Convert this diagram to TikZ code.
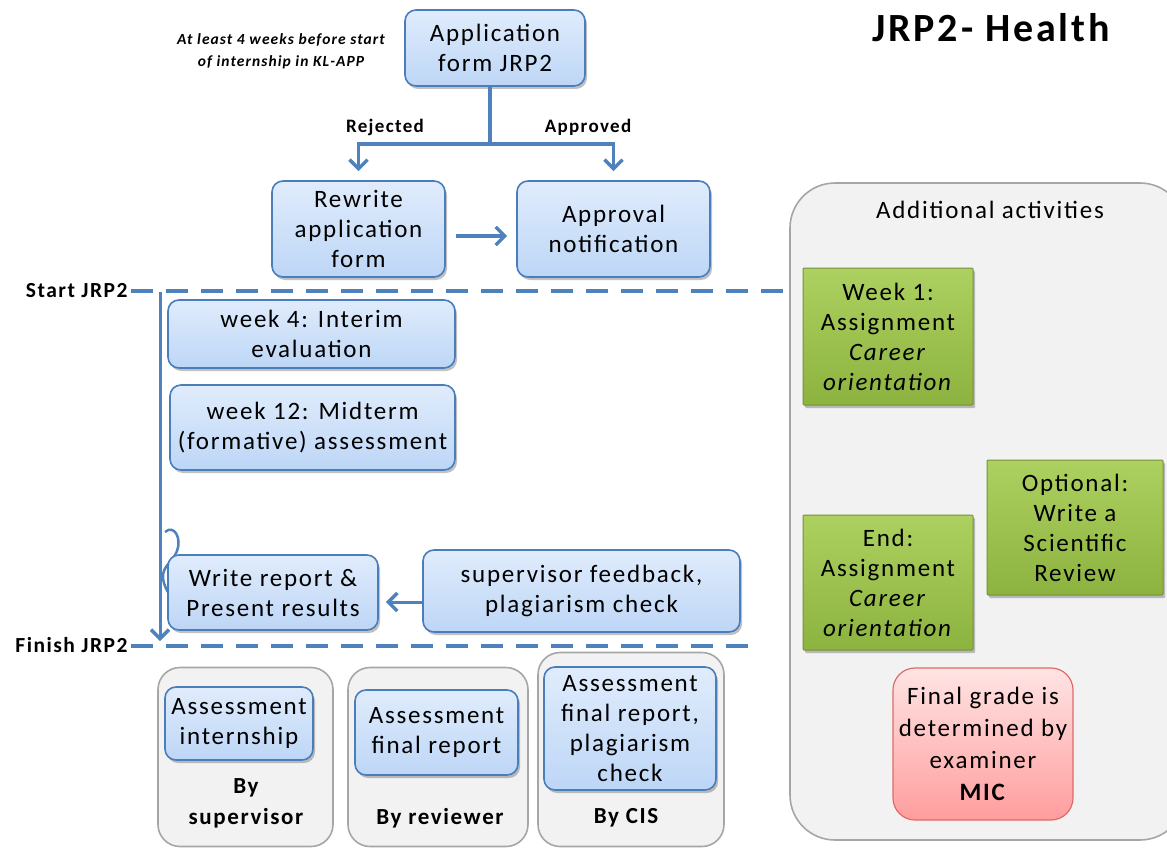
\documentclass[tikz,border=0pt]{standalone}
\usepackage{fontspec}
\setmainfont{Carlito}[LetterSpace=7]
\usetikzlibrary{arrows.meta,positioning,shadows,calc}
\definecolor{linkblue}{HTML}{4F81BD}
\definecolor{boxblue}{HTML}{4A7EBB}
\definecolor{bluetop}{HTML}{E0ECFC}
\definecolor{bluebot}{HTML}{BDD6F6}
\definecolor{grayfill}{HTML}{F2F2F2}
\definecolor{graydraw}{HTML}{A6A6A6}
\definecolor{greentop}{HTML}{ADD160}
\definecolor{greenbot}{HTML}{8CB23F}
\definecolor{greendraw}{HTML}{76923C}
\definecolor{redtop}{HTML}{FFE4E4}
\definecolor{redbot}{HTML}{FF9D9D}
\definecolor{reddraw}{HTML}{E06A6A}

\tikzset{
  bluebox/.style={draw=boxblue,line width=1.6pt,rounded corners=11pt,top color=bluetop,bottom color=bluebot,
    align=center,inner sep=2pt,drop shadow={shadow xshift=2pt,shadow yshift=-3pt,opacity=.35,fill=black!70}},
  greenbox/.style={draw=greendraw,line width=1pt,rounded corners=1pt,top color=greentop,bottom color=greenbot,
    align=center,inner sep=2pt,drop shadow={shadow xshift=2pt,shadow yshift=-3pt,opacity=.35,fill=black!70}},
  redbox/.style={draw=reddraw,line width=1.2pt,rounded corners=22pt,top color=redtop,bottom color=redbot,
    align=center,inner sep=2pt},
  graygroup/.style={draw=graydraw,line width=1.6pt,fill=grayfill,rounded corners=22pt,inner sep=0pt},
  flow/.style={draw=linkblue,line width=3.5pt,-{Straight Barb[length=9pt,width=18pt,line width=3.5pt]}},
  phase/.style={draw=linkblue,line width=4pt,dash pattern=on 22pt off 13pt},
  boldlbl/.style={font=\fontsize{19}{23}\selectfont\bfseries},
  grplbl/.style={font=\fontsize{23}{31}\selectfont\bfseries,align=center}
}

\begin{document}
\begin{tikzpicture}[x=1pt,y=-1pt,font=\fontsize{25}{30}\selectfont]
  \useasboundingbox (0,0) rectangle (1167,848);

  % title and note
  \node[anchor=east,font=\fontsize{40}{48}\selectfont\bfseries] (title) at (1113,28) {JRP2- Health};
  \node[align=center,font=\fontsize{15.5}{22}\selectfont\bfseries\itshape] (note) at (281,51)
    {At least 4 weeks before start\\of internship in KL-APP};

  % application
  \node[bluebox,minimum width=180,minimum height=76] (app) at (495,48) {Application\\form JRP2};
  \node[bluebox,minimum width=173,minimum height=96] (rew) at (358.5,229) {Rewrite\\application\\form};
  \node[bluebox,minimum width=193,minimum height=96] (appr) at (613.5,229) {Approval\\notification};
  \coordinate (split) at ($(app.south)+(-5,57)$);
  \draw[flow,shorten >=9pt] ($(app.south)+(-5,0)$) -- (split) -| (rew.north);
  \draw[flow,shorten >=9pt] (split) -| (appr.north);
  \node[boldlbl] (rejlbl) at (385,127) {Rejected};
  \node[boldlbl] (applbl) at (588,127) {Approved};
  \draw[flow,shorten <=10pt,shorten >=9pt] ([yshift=-7pt]rew.east) -- ([yshift=-7pt]appr.west);

  % internship period
  \node[boldlbl,font=\fontsize{21.5}{25}\selectfont\bfseries,anchor=east] (startlbl) at (131,291) {Start JRP2};
  \node[boldlbl,font=\fontsize{21.5}{25}\selectfont\bfseries,anchor=east] (finlbl) at (131,645) {Finish JRP2};
  \coordinate (startend) at (790,291);
  \coordinate (finend) at (756,646);
  \draw[phase] (startlbl.east) -- (startend);
  \draw[phase] ([yshift=-1pt]finlbl.east) -- (finend);
  \coordinate (tstart) at (160,292);
  \coordinate (tend) at (160,641);
  \draw[flow,line width=3pt] (tstart) -- (tend);
  \draw[linkblue,line width=2.5pt] (165,532) .. controls (174,524) and (182,538) .. (177,551)
    .. controls (173,562) and (162,566) .. (163,578) .. controls (164,586) and (167,590) .. (169,594);

  \node[bluebox,minimum width=287,minimum height=68] (interim) at (311.5,334) {week 4: Interim\\evaluation};
  \node[bluebox,minimum width=285,minimum height=85] (mid) at (312.5,427.5) {week 12: Midterm\\(formative) assessment};
  \node[bluebox,minimum width=210,minimum height=75] (write) at (273,592.5) {Write report \&\\Present results};
  \node[bluebox,minimum width=317,minimum height=82] (feed) at (581.5,591) {supervisor feedback,\\plagiarism check};
  \draw[flow,line width=3pt,shorten >=7pt] ([yshift=-11pt]feed.west) -- ([yshift=-11pt]feed.west -| write.east);

  % assessment groups
  \node[graygroup,minimum width=175,minimum height=179] (grpsup) at (245.5,757) {};
  \node[graygroup,minimum width=180,minimum height=179] (grprev) at (438,757) {};
  \node[graygroup,minimum width=186,minimum height=194] (grpcis) at (631,749.5) {};
  \node[bluebox,minimum width=148,minimum height=73] (asssup) at (239,723.5) {Assessment\\internship};
  \node[bluebox,minimum width=163,minimum height=85] (assrev) at (436.5,732.5) {Assessment\\final report};
  \node[bluebox,minimum width=172,minimum height=123] (asscis) at (630,728.5) {Assessment\\final report,\\plagiarism\\check};
  \node[grplbl] (bysup) at (246,803) {By\\supervisor};
  \node[grplbl] (byrev) at (440,818) {By reviewer};
  \node[grplbl] (bycis) at (626,818) {By CIS};

  % additional activities
  \node[graygroup,rounded corners=45pt,minimum width=395,minimum height=657] (addgrp) at (987.5,511.5) {};
  \node (addlbl) at (990,210) {Additional activities};
  \node[greenbox,minimum width=170,minimum height=137] (week1) at (888,336.5)
    {Week 1:\\Assignment\\\textit{Career}\\\textit{orientation}};
  \node[greenbox,minimum width=176,minimum height=135] (opt) at (1075,527.5)
    {Optional:\\Write a\\Scientific\\Review};
  \node[greenbox,minimum width=170,minimum height=135] (endb) at (888,582.5)
    {End:\\Assignment\\\textit{Career}\\\textit{orientation}};
  \node[redbox,minimum width=180,minimum height=152,font=\fontsize{25}{32}\selectfont] (final) at (983,744)
    {Final grade is\\determined by\\examiner\\\textbf{MIC}};
\end{tikzpicture}
\end{document}
